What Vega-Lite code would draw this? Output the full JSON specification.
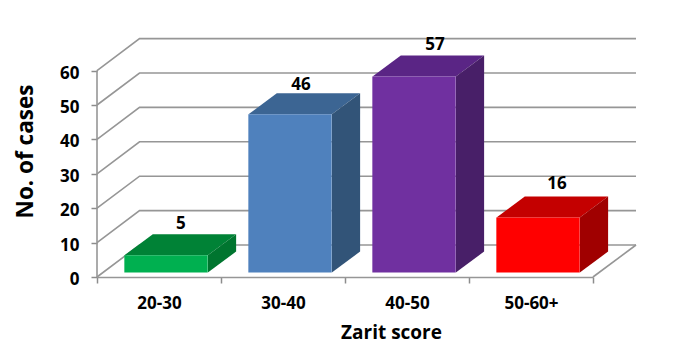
{
"$schema":"https://vega.github.io/schema/vega-lite/v6.json",
"width":539,"height":239,
"autosize":"none",
"padding":{"left":97,"top":38,"right":48,"bottom":68},
"background":"white",
"config":{"view":{"stroke":null},"font":"Open Sans","axisY":{"values":[0,10,20,30,40,50,60],"labelOverlap":false,"domain":false,"grid":false,"ticks":true,"tickSize":6,"tickColor":"#8c8c8c","tickWidth":1.5,"labelFontSize":17,"labelFontWeight":"bold","labelFont":"Open Sans","labelColor":"#000000","labelPadding":12,"labelOffset":2.5,"titleFontSize":22.5,"titleFontWeight":"bold","titleFont":"Open Sans","titleColor":"#000000","titleBaseline":"middle","titleX":-72,"titleY":113}},
"datasets":{
"bars":[{"score":"20-30","cases":5},{"score":"30-40","cases":46},{"score":"40-50","cases":57},{"score":"50-60+","cases":16}],
"levels":[{"level":0},{"level":10},{"level":20},{"level":30},{"level":40},{"level":50},{"level":60}]
},
"resolve":{"scale":{"x":"independent","color":"independent"}},
"layer":[
{"data":{"name":"levels"},
"transform":[{"calculate":"[0,1,2]","as":"k"},{"flatten":["k"]},
{"calculate":"datum.k==0?0:(datum.k==1?0.343:4.347)","as":"gx"},
{"calculate":"datum.k==0?datum.level:datum.level+9.3","as":"gy"}],
"mark":{"type":"line","stroke":"#969696","strokeWidth":1.6,"interpolate":"linear"},
"encoding":{
"x":{"field":"gx","type":"quantitative","scale":{"domain":[0,4.347],"range":[0,539],"nice":false},"axis":null},
"y":{"field":"gy","type":"quantitative","scale":{"domain":[0,69.48],"nice":false,"zero":false},
"axis":{"values":[0,10,20,30,40,50,60],"title":"No. of cases"}},
"detail":{"field":"level","type":"nominal"},
"order":{"field":"k","type":"quantitative"}}},
{"data":{"values":[{"a":0}]},
"mark":{"type":"rule","stroke":"#969696","strokeWidth":1.6},
"encoding":{"x":{"datum":0,"type":"quantitative","scale":{"domain":[0,4.347],"range":[0,539],"nice":false},"axis":null},"y":{"datum":0,"type":"quantitative","axis":{"values":[0,10,20,30,40,50,60],"title":"No. of cases"}},"y2":{"datum":60}}},
{"data":{"values":[{"a":0}]},
"mark":{"type":"rule","stroke":"#969696","strokeWidth":1.6},
"encoding":{"x":{"datum":4,"type":"quantitative","scale":{"domain":[0,4.347],"range":[0,539],"nice":false},"axis":null},"x2":{"datum":4.347},"y":{"datum":0,"type":"quantitative","axis":{"values":[0,10,20,30,40,50,60],"title":"No. of cases"}},"y2":{"datum":9.3}}},
{"data":{"name":"bars"},
"transform":[{"window":[{"op":"row_number","as":"i"}]},
{"calculate":"[0,1,2,3]","as":"k"},{"flatten":["k"]},
{"calculate":"datum.i-1+0.222","as":"L"},
{"calculate":"datum.cases+1.3","as":"top"},
{"calculate":"datum.k==0?datum.L:(datum.k==1?datum.L+0.228:(datum.k==2?datum.L+0.672:datum.L+0.9))","as":"vx"},
{"calculate":"datum.k==3?datum.top+6.1:datum.top","as":"lo"},
{"calculate":"datum.k==0?datum.top:datum.top+6.1","as":"hi"}],
"mark":{"type":"area","interpolate":"linear"},
"encoding":{
"x":{"field":"vx","type":"quantitative","scale":{"domain":[0,4.347],"range":[0,539],"nice":false},"axis":null},
"y":{"field":"lo","type":"quantitative","stack":null,"axis":{"values":[0,10,20,30,40,50,60],"title":"No. of cases"}},
"y2":{"field":"hi"},
"color":{"field":"score","type":"nominal","legend":null,"scale":{"domain":["20-30","30-40","40-50","50-60+"],"range":["#008236","#3C6593","#5A2585","#C40000"]}}}},
{"data":{"name":"bars"},
"transform":[{"window":[{"op":"row_number","as":"i"}]},
{"calculate":"[2,3]","as":"k"},{"flatten":["k"]},
{"calculate":"datum.i-1+0.222","as":"L"},
{"calculate":"datum.cases+1.3","as":"top"},
{"calculate":"datum.k==2?datum.L+0.672:datum.L+0.9","as":"vx"},
{"calculate":"datum.k==2?1.3:7.4","as":"lo"},
{"calculate":"datum.k==2?datum.top:datum.top+6.1","as":"hi"}],
"mark":{"type":"area","interpolate":"linear"},
"encoding":{
"x":{"field":"vx","type":"quantitative","scale":{"domain":[0,4.347],"range":[0,539],"nice":false},"axis":null},
"y":{"field":"lo","type":"quantitative","stack":null,"axis":{"values":[0,10,20,30,40,50,60],"title":"No. of cases"}},
"y2":{"field":"hi"},
"color":{"field":"score","type":"nominal","legend":null,"scale":{"domain":["20-30","30-40","40-50","50-60+"],"range":["#00752F","#325478","#481F68","#A00000"]}}}},
{"data":{"name":"bars"},
"transform":[{"calculate":"datum.cases+1.3","as":"top"}],
"mark":{"type":"bar","xOffset":7,"width":{"band":0.672}},
"encoding":{
"x":{"field":"score","type":"nominal","sort":null,"scale":{"type":"band","domain":["20-30","30-40","40-50","50-60+"],"range":[0,496],"paddingInner":0,"paddingOuter":0},
"axis":{"orient":"bottom","labelAngle":0,"tickBand":"extent","tickSize":6,"tickColor":"#8c8c8c","tickWidth":1.5,"domainColor":"#969696","domainWidth":1.6,"labelFontSize":17,"labelFontWeight":"bold","labelFont":"Open Sans","labelColor":"#000000","labelPadding":12,"title":"Zarit score","titleFontSize":19,"titleFontWeight":"bold","titleFont":"Open Sans","titleColor":"#000000","titleBaseline":"middle","titleX":294,"titleY":55}},
"y":{"field":"top","type":"quantitative","stack":null,"axis":{"values":[0,10,20,30,40,50,60],"title":"No. of cases"}},
"y2":{"datum":1.3},
"color":{"field":"score","type":"nominal","legend":null,"scale":{"domain":["20-30","30-40","40-50","50-60+"],"range":["#00B050","#4F81BD","#7030A0","#FF0000"]}}}},
{"data":{"name":"bars"},
"transform":[{"window":[{"op":"row_number","as":"i"}]},
{"calculate":"datum.i-1+[0.677,0.645,0.726,0.71][datum.i-1]","as":"tx"},
{"calculate":"datum.cases+[10.3,9.8,10.3,10.9][datum.i-1]","as":"ty"}],
"mark":{"type":"text","font":"Open Sans","fontWeight":"bold","fontSize":17,"color":"#000000","baseline":"middle","align":"center"},
"encoding":{
"x":{"field":"tx","type":"quantitative","scale":{"domain":[0,4.347],"range":[0,539],"nice":false},"axis":null},
"y":{"field":"ty","type":"quantitative","axis":{"values":[0,10,20,30,40,50,60],"title":"No. of cases"}},
"text":{"field":"cases","type":"quantitative"}}}
]
}
